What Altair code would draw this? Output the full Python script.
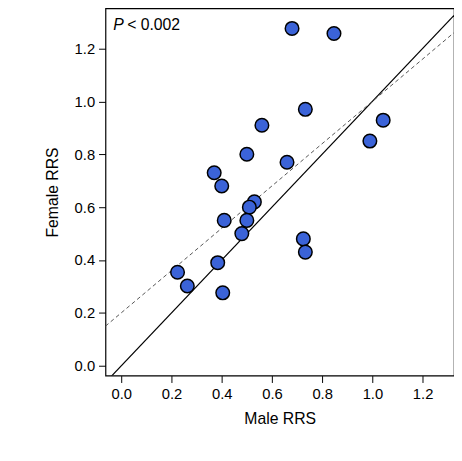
import altair as alt
import pandas as pd

male = [0.68, 0.847, 0.733, 1.043, 0.56, 0.99, 0.50, 0.66, 0.37, 0.40, 0.53,
        0.51, 0.41, 0.50, 0.48, 0.725, 0.733, 0.384, 0.224, 0.263, 0.404]
female = [1.276, 1.257, 0.97, 0.929, 0.91, 0.85, 0.80, 0.77, 0.73, 0.68, 0.62,
          0.60, 0.55, 0.55, 0.50, 0.48, 0.43, 0.39, 0.354, 0.302, 0.276]
line_x = [-0.063, 1.325]
identity_y = [-0.063, 1.325]
fit_y = [0.15, 1.26]

pts = pd.DataFrame({"male": male, "female": female})
lines = pd.DataFrame({"x": line_x, "ident": identity_y, "fit": fit_y})

xs = alt.Scale(domain=[-0.063, 1.325], nice=False, zero=False)
ys = alt.Scale(domain=[-0.037, 1.352], nice=False, zero=False)
ticks = [0.0, 0.2, 0.4, 0.6, 0.8, 1.0, 1.2]

ident = alt.Chart(lines).mark_line(color="black", strokeWidth=1.2, clip=True).encode(
    x=alt.X("x:Q", scale=xs, title="Male RRS",
            axis=alt.Axis(values=ticks, format=".1f", grid=False)),
    y=alt.Y("ident:Q", scale=ys, title="Female RRS",
            axis=alt.Axis(values=ticks, format=".1f", grid=False)),
)
fit = alt.Chart(lines).mark_line(color="#555555", strokeDash=[4, 3], strokeWidth=1, clip=True).encode(
    x=alt.X("x:Q", scale=xs), y=alt.Y("fit:Q", scale=ys)
)
points = alt.Chart(pts).mark_circle(size=190, color="#3b63d8", stroke="black",
                                     strokeWidth=1.5, opacity=1).encode(
    x=alt.X("male:Q", scale=xs), y=alt.Y("female:Q", scale=ys)
)
label = alt.Chart(pd.DataFrame({"t": ["P"]})).mark_text(
    align="left", baseline="middle", fontSize=16,
    fontStyle="italic", font="Liberation Sans"
).encode(text="t:N", x=alt.value(8), y=alt.value(17))
label2 = alt.Chart(pd.DataFrame({"t": ["< 0.002"]})).mark_text(
    align="left", baseline="middle", fontSize=16, font="Liberation Sans"
).encode(text="t:N", x=alt.value(22), y=alt.value(17))

chart = alt.layer(ident, fit, points, label, label2).properties(
    width=354, height=373,
    padding={"left": 37, "top": -3, "right": 0, "bottom": 5},
).configure_view(stroke="black", strokeWidth=1.2).configure_axis(
    labelFont="Liberation Sans", titleFont="Liberation Sans",
    labelFontSize=15, titleFontSize=16, titleFontWeight="normal",
    labelColor="black", titleColor="black", domain=False,
    tickColor="black", tickSize=7, labelPadding=4
).configure_axisY(titlePadding=14).configure_axisX(titlePadding=10)

chart.save("out.html", embed_options={"renderer": "svg", "actions": False})
